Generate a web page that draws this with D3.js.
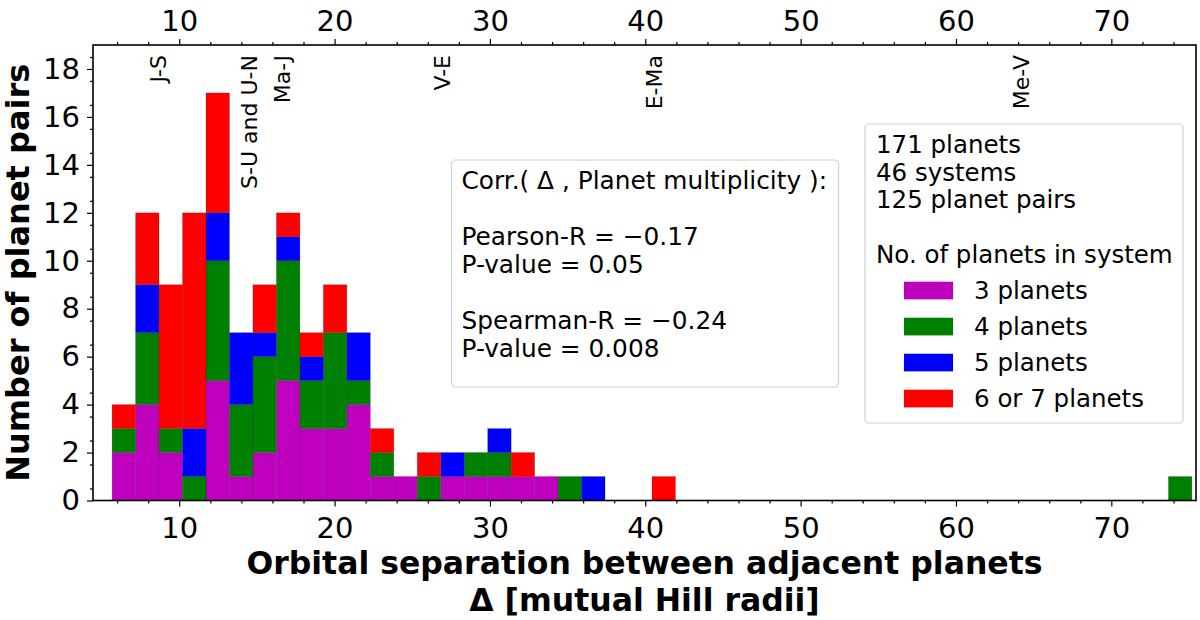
<!DOCTYPE html>
<html><head><meta charset="utf-8">
<script src="https://cdn.jsdelivr.net/npm/d3@7"></script>
<style>
body{margin:0;background:#fff}
text{font-family:"DejaVu Sans",sans-serif;fill:#000}
</style>
</head><body>
<svg id="chart" width="1200" height="620"></svg>
<script>
// ---- data ----
const binStart = 5.68;      // left edge of first bin (mutual Hill radii)
const binWidth = 1.511;     // bin width (mutual Hill radii)
const seriesKeys = ["3 planets", "4 planets", "5 planets", "6 or 7 planets"];
const seriesColors = ["#bf00bf", "#008000", "#0000ff", "#ff0000"];
const planets3 = [2,4,2,0,5,1,2,5,3,3,4,1,1,0,1,1,1,1,1,0,0,0,0,0, 0,0,0,0,0,0,0,0,0,0,0,0,0,0,0,0,0,0,0,0,0,0];
const planets4 = [1,3,1,1,5,3,4,5,2,4,1,1,0,1,0,1,1,0,0,1,0,0,0,0, 0,0,0,0,0,0,0,0,0,0,0,0,0,0,0,0,0,0,0,0,0,1];
const planets5 = [0,2,0,2,2,3,1,1,1,0,2,0,0,0,1,0,1,0,0,0,1,0,0,0, 0,0,0,0,0,0,0,0,0,0,0,0,0,0,0,0,0,0,0,0,0,0];
const planets67 = [1,3,6,9,5,0,2,1,1,2,0,1,0,1,0,0,0,1,0,0,0,0,0,1, 0,0,0,0,0,0,0,0,0,0,0,0,0,0,0,0,0,0,0,0,0,0];
const xTicks = [10,20,30,40,50,60,70];
const xMinorTicks = [6,8,12,14,16,18,22,24,26,28,32,34,36,38,42,44,46,48,52,54,56,58,62,64,66,68,72,74];
const yTicks = [0,2,4,6,8,10,12,14,16,18];
const solarPairs = ["J-S", "S-U and U-N", "Ma-J", "V-E", "E-Ma", "Me-V"];
const solarDelta = [8.65, 14.52, 16.65, 26.95, 40.6, 64.2];
const statsLines = ["Corr.( \u0394 , Planet multiplicity ):", "", "Pearson-R = \u22120.17", "P-value = 0.05", "", "Spearman-R = \u22120.24", "P-value = 0.008"];
const legendTitle = ["171 planets", "46 systems", "125 planet pairs", "", "No. of planets in system"];
const xLabel = ["Orbital separation between adjacent planets", "\u0394 [mutual Hill radii]"];
const yLabel = "Number of planet pairs";

// ---- layout ----
const L = 93, R = 1196, T = 45, B = 500.5;
const svg = d3.select("#chart");
const x = d3.scaleLinear().domain([4.45, 75.45]).range([L, R]);
const y = d3.scaleLinear().domain([0, 19]).range([B, T]);

// rows for stacking
const rows = planets3.map((v, i) => ({
  lo: binStart + i * binWidth,
  hi: binStart + (i + 1) * binWidth,
  "3 planets": v, "4 planets": planets4[i], "5 planets": planets5[i], "6 or 7 planets": planets67[i]
}));
const stacked = d3.stack().keys(seriesKeys)(rows);

const bars = svg.append("g");
stacked.forEach((s, si) => {
  bars.selectAll(null).data(s.filter(d => d[1] > d[0])).enter().append("rect")
    .attr("x", d => x(d.data.lo))
    .attr("width", d => x(d.data.hi) - x(d.data.lo))
    .attr("y", d => y(d[1]))
    .attr("height", d => y(d[0]) - y(d[1]))
    .attr("fill", seriesColors[si])
    .attr("stroke", "rgba(0,0,0,0.22)")
    .attr("stroke-width", 0.7);
});

// axes
function styleAxis(g) {
  g.select(".domain").remove();
  g.selectAll("line").attr("stroke", "#000").attr("stroke-width", 1.2);
  g.selectAll("text").style("font-size", "29px").style("font-family", "DejaVu Sans").attr("fill", "#000");
}
svg.append("g").attr("transform", `translate(0,${B})`)
  .call(d3.axisBottom(x).tickValues(xTicks).tickSize(6).tickPadding(11).tickFormat(d3.format("d"))).call(styleAxis);
svg.append("g").attr("transform", `translate(0,${B})`)
  .call(d3.axisBottom(x).tickValues(xMinorTicks).tickSize(3).tickFormat("")).call(styleAxis);
svg.append("g").attr("transform", `translate(0,${T})`)
  .call(d3.axisTop(x).tickValues(xTicks).tickSize(6).tickPadding(8).tickFormat(d3.format("d"))).call(styleAxis);
svg.append("g").attr("transform", `translate(0,${T})`)
  .call(d3.axisTop(x).tickValues(xMinorTicks).tickSize(3).tickFormat("")).call(styleAxis);
svg.append("g").attr("transform", `translate(${L},0)`)
  .call(d3.axisLeft(y).tickValues(yTicks).tickSize(6).tickPadding(7).tickFormat(d3.format("d"))).call(styleAxis);
svg.append("g").attr("transform", `translate(${L},0)`)
  .call(d3.axisLeft(y).tickValues(d3.range(0.5, 19, 1)).tickSize(3).tickFormat("")).call(styleAxis);

// frame
svg.append("rect").attr("x", L).attr("y", T).attr("width", R - L).attr("height", B - T)
  .attr("fill", "none").attr("stroke", "#000").attr("stroke-width", 1.6);

// solar system pair labels
svg.append("g").selectAll("text").data(solarPairs).enter().append("text")
  .attr("transform", (d, i) => `translate(${x(solarDelta[i])},55) rotate(-90)`)
  .attr("text-anchor", "end")
  .attr("dominant-baseline", "central")
  .style("font-size", "22px")
  .text(d => d);

// stats box
const sb = svg.append("g");
sb.append("rect").attr("x", 451.5).attr("y", 160).attr("width", 387).attr("height", 227).attr("rx", 4)
  .attr("fill", "rgba(255,255,255,0.8)").attr("stroke", "#d0d0d0").attr("stroke-width", 1.2);
sb.selectAll("text").data(statsLines).enter().append("text")
  .attr("x", 461.5).attr("y", (d, i) => 189 + i * 28)
  .style("font-size", "24.8px").text(d => d);

// legend
const lg = svg.append("g");
lg.append("rect").attr("x", 865).attr("y", 124).attr("width", 318).attr("height", 299).attr("rx", 4)
  .attr("fill", "rgba(255,255,255,0.8)").attr("stroke", "#d0d0d0").attr("stroke-width", 1.2);
lg.selectAll("text.t").data(legendTitle).enter().append("text").attr("class", "t")
  .attr("x", 876).attr("y", (d, i) => 153 + i * 27.5)
  .style("font-size", "24.5px").text(d => d);
const items = lg.selectAll("g.it").data(seriesKeys).enter().append("g").attr("class", "it")
  .attr("transform", (d, i) => `translate(0,${299.3 + i * 36})`);
items.append("rect").attr("x", 904).attr("y", -17.5).attr("width", 49).attr("height", 17.5)
  .attr("fill", (d, i) => seriesColors[i]).attr("stroke", "rgba(0,0,0,0.15)").attr("stroke-width", 0.6);
items.append("text").attr("x", 974).attr("y", 0).style("font-size", "24.5px").text(d => d);

// axis labels
svg.append("g").selectAll("text").data(xLabel).enter().append("text")
  .attr("x", (L + R) / 2).attr("y", (d, i) => 573.5 + i * 37)
  .attr("text-anchor", "middle").style("font-size", "31.5px").style("font-weight", "bold").text(d => d);
svg.append("text")
  .attr("transform", `translate(29,${(T + B) / 2}) rotate(-90)`)
  .attr("text-anchor", "middle").style("font-size", "32px").style("font-weight", "bold").text(yLabel);
</script>
</body></html>
